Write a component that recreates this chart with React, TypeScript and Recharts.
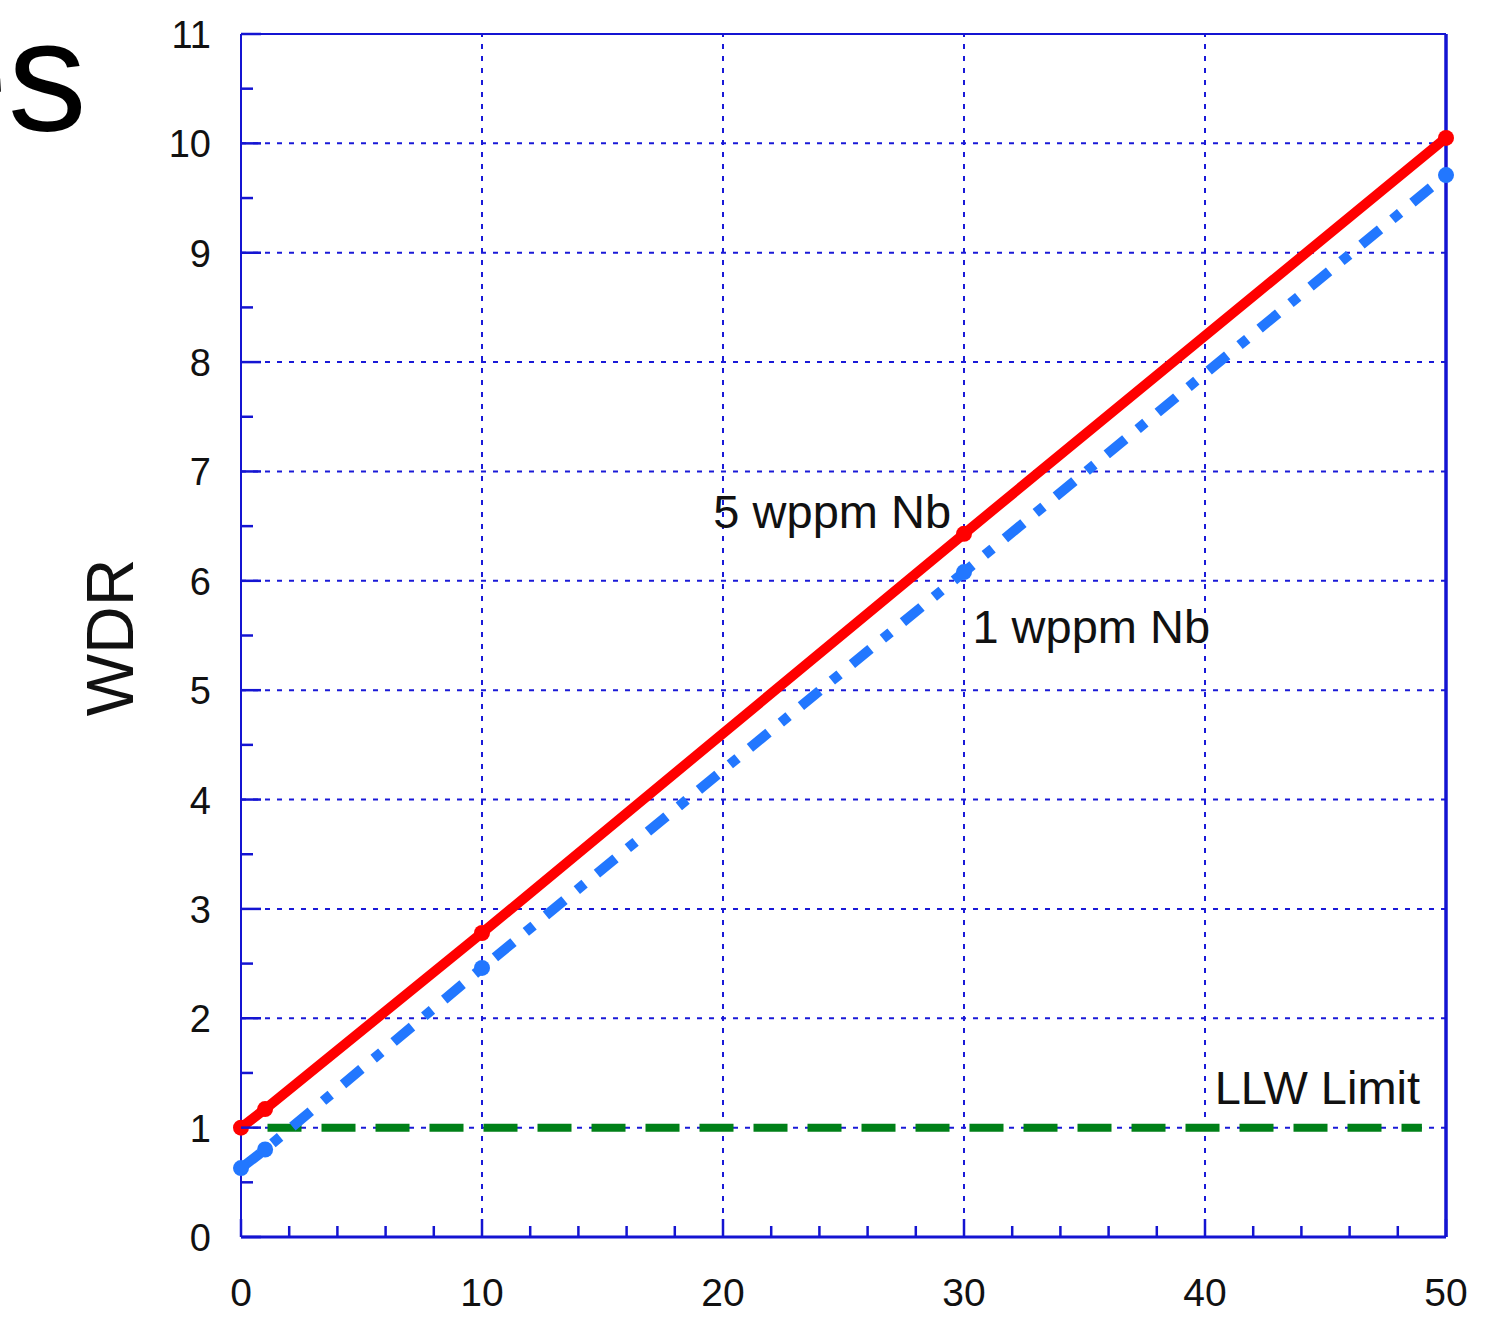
import React from 'react';
import { LineChart, Line, XAxis, YAxis, ReferenceLine, ReferenceDot } from 'recharts';

// ---- data ----
const nbX = [0, 1, 10, 30, 50];
const wdr5wppm = [1.0, 1.17, 2.78, 6.43, 10.05];
const wdr1wppm = [0.63, 0.8, 2.46, 6.08, 9.71];
const llwX = [1.1, 49];
const llwY = [1, 1];

const xTicks = [0, 2, 4, 6, 8, 10, 12, 14, 16, 18, 20, 22, 24, 26, 28, 30, 32, 34, 36, 38, 40, 42, 44, 46, 48, 50];
const xMajor = [0, 10, 20, 30, 40, 50];
const yTicks = [0, 0.5, 1, 1.5, 2, 2.5, 3, 3.5, 4, 4.5, 5, 5.5, 6, 6.5, 7, 7.5, 8, 8.5, 9, 9.5, 10, 10.5, 11];
const yMajor = [0, 1, 2, 3, 4, 5, 6, 7, 8, 9, 10, 11];
const xGrid = [10, 20, 30, 40];
const yGrid = [1, 2, 3, 4, 5, 6, 7, 8, 9, 10];

const annotations = [
  { x: 19.6, y: 6.48, text: '5 wppm Nb' },
  { x: 30.35, y: 5.43, text: '1 wppm Nb' },
  { x: 40.4, y: 1.22, text: 'LLW Limit' },
];

const data5 = nbX.map((x, i) => ({ x, y: wdr5wppm[i] }));
const data1 = nbX.map((x, i) => ({ x, y: wdr1wppm[i] }));
const dataLLW = llwX.map((x, i) => ({ x, y: llwY[i] }));

const AXIS = '#1414d2';
const GRID = '#1a1ad8';
const FONT = '"Liberation Sans", Arial, Helvetica, sans-serif';

const BottomTick = (props: any) => {
  const { x, y, payload } = props;
  const v = payload.value;
  const major = xMajor.includes(v);
  return (
    <g>
      <line x1={x} y1={y} x2={x} y2={y - (major ? 18 : 11)} stroke={AXIS} strokeWidth={2.5} />
      {major && (
        <text x={x} y={y + 69} textAnchor="middle" fontSize={39} fill="#111" fontFamily={FONT}>
          {v}
        </text>
      )}
    </g>
  );
};

const TopTick = (props: any) => {
  const { x, y, payload } = props;
  const major = xMajor.includes(payload.value);
  return <line x1={x} y1={y} x2={x} y2={y + (major ? 18 : 11)} stroke={AXIS} strokeWidth={2.5} />;
};

const LeftTick = (props: any) => {
  const { x, y, payload } = props;
  const v = payload.value;
  const major = yMajor.includes(v);
  return (
    <g>
      <line x1={x} y1={y} x2={x + (major ? 20 : 12)} y2={y} stroke={AXIS} strokeWidth={2.5} />
      {major && (
        <text x={x - 30} y={y + 14} textAnchor="end" fontSize={38} fill="#111" fontFamily={FONT}>
          {v}
        </text>
      )}
    </g>
  );
};

const RightTick = (props: any) => {
  const { x, y, payload } = props;
  const major = yMajor.includes(payload.value);
  return <line x1={x} y1={y} x2={x - (major ? 20 : 12)} y2={y} stroke={AXIS} strokeWidth={2.5} />;
};

const WdrLabel = (props: any) => {
  const vb = props.viewBox;
  const cx = vb.x - 48;
  const cy = vb.y + vb.height / 2 + 2;
  return (
    <text
      x={cx}
      y={cy}
      transform={`rotate(-90, ${cx}, ${cy})`}
      textAnchor="middle"
      fontSize={66}
      fill="#111"
      fontFamily={FONT}
    >
      WDR
    </text>
  );
};

export default function App() {
  return (
    <div style={{ position: 'absolute', left: 0, top: 0, width: 1512, height: 1319, background: '#fff' }}>
      <svg
        width={1512}
        height={200}
        style={{ position: 'absolute', left: 0, top: 0, overflow: 'visible', pointerEvents: 'none' }}
      >
        <text x={-80} y={130} fontSize={158} fill="#000" fontFamily={FONT}>
          es
        </text>
      </svg>
      <LineChart
        width={1512}
        height={1319}
        margin={{ top: 24, right: 46, bottom: 22, left: 181 }}
        style={{ fontFamily: FONT }}
      >
        <XAxis
          dataKey="x"
          type="number"
          domain={[0, 50]}
          ticks={xTicks}
          interval={0}
          height={60}
          tickSize={0}
          tickMargin={0}
          tickLine={false}
          tick={BottomTick}
          axisLine={{ stroke: AXIS, strokeWidth: 3 }}
        />
        <XAxis
          xAxisId="top"
          orientation="top"
          dataKey="x"
          type="number"
          domain={[0, 50]}
          ticks={xTicks}
          interval={0}
          height={10}
          tickSize={0}
          tickMargin={0}
          tickLine={false}
          tick={TopTick}
          axisLine={{ stroke: AXIS, strokeWidth: 2 }}
        />
        <YAxis
          type="number"
          domain={[0, 11]}
          ticks={yTicks}
          interval={0}
          width={60}
          tickSize={0}
          tickMargin={0}
          tickLine={false}
          tick={LeftTick}
          axisLine={{ stroke: AXIS, strokeWidth: 2 }}
          label={{ content: WdrLabel }}
        />
        <YAxis
          yAxisId="right"
          orientation="right"
          type="number"
          domain={[0, 11]}
          ticks={yTicks}
          interval={0}
          width={20}
          tickSize={0}
          tickMargin={0}
          tickLine={false}
          tick={RightTick}
          axisLine={{ stroke: AXIS, strokeWidth: 3.5 }}
        />
        {xGrid.map((v) => (
          <ReferenceLine key={`gx${v}`} x={v} stroke={GRID} strokeWidth={2} strokeDasharray="5 7" />
        ))}
        {yGrid.map((v) => (
          <ReferenceLine key={`gy${v}`} y={v} stroke={GRID} strokeWidth={2} strokeDasharray="5 7" />
        ))}
        <Line
          data={dataLLW}
          dataKey="y"
          type="linear"
          stroke="#008018"
          strokeWidth={8}
          strokeDasharray="34 20"
          dot={false}
          activeDot={false}
          isAnimationActive={false}
        />
        <Line
          data={data1}
          dataKey="y"
          type="linear"
          stroke="#2277ff"
          strokeWidth={10}
          strokeDasharray="24 16 10 16"
          dot={{ r: 8, fill: '#2277ff', stroke: 'none' }}
          activeDot={false}
          isAnimationActive={false}
        />
        <Line
          data={data5}
          dataKey="y"
          type="linear"
          stroke="#ff0000"
          strokeWidth={10}
          dot={{ r: 8, fill: '#ff0000', stroke: 'none' }}
          activeDot={false}
          isAnimationActive={false}
        />
        {annotations.map((a) => (
          <ReferenceDot
            key={a.text}
            x={a.x}
            y={a.y}
            r={0}
            fill="none"
            stroke="none"
            label={{
              content: (p: any) => (
                <text x={p.viewBox.x} y={p.viewBox.y} fontSize={47} fill="#111" fontFamily={FONT}>
                  {a.text}
                </text>
              ),
            }}
          />
        ))}
      </LineChart>
    </div>
  );
}
